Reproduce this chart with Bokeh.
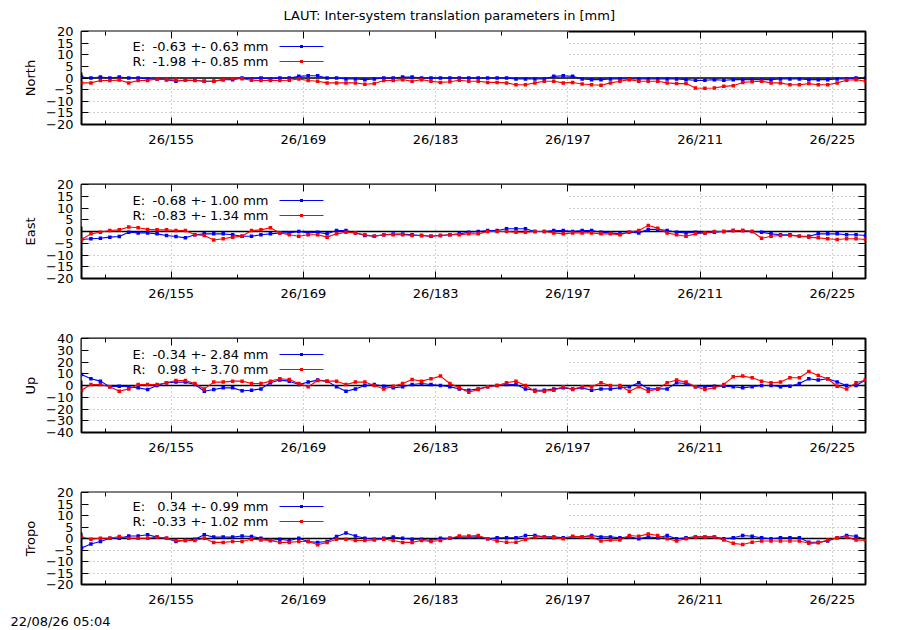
from bokeh.plotting import figure
from bokeh.layouts import column
from bokeh.models import Range1d, FixedTicker, LinearAxis, Span, Label, BoxAnnotation, Title
from bokeh.embed import file_html
from bokeh.resources import INLINE

title_text = "LAUT: Inter-system translation parameters in [mm]"
timestamp = "22/08/26 05:04"

# day of year 2026, one solution per day (plotted at noon)
doy = [145, 146, 147, 148, 149, 150, 151, 152, 153, 154, 155, 156, 157, 158,
       159, 160, 161, 162, 163, 164, 165, 166, 167, 168, 169, 170, 171, 172,
       173, 174, 175, 176, 177, 178, 179, 180, 181, 182, 183, 184, 185, 186,
       187, 188, 189, 190, 191, 192, 193, 194, 195, 196, 197, 198, 199, 200,
       201, 202, 203, 204, 205, 206, 207, 208, 209, 210, 211, 212, 213, 214,
       215, 216, 217, 218, 219, 220, 221, 222, 223, 224, 225, 226, 227, 228]

tick_days = [155, 169, 183, 197, 211, 225]
tick_labels = ["26/155", "26/169", "26/183", "26/197", "26/211", "26/225"]
minor_days = [148, 162, 176, 190, 204, 218]

north_e = [0.4, 0.0, 0.4, 0.0, 0.4, 0.0, 0.0, -0.4, -0.4, -0.7, -1.4, -1.0, -1.0, -1.4,
           -1.4, -0.7, -0.7, 0.0, -0.4, 0.0, -0.4, 0.0, 0.0, 0.7, 1.0, 1.0, 0.0, 0.0,
           -0.4, -0.4, -0.7, -0.4, 0.0, 0.0, 0.4, 0.4, 0.0, 0.0, 0.0, 0.0, 0.0, 0.0,
           0.0, 0.0, 0.0, 0.0, -0.4, -0.4, -0.4, -0.4, 0.7, 1.0, 0.7, -0.4, -0.7, -0.7,
           -0.4, -0.4, -0.4, -0.4, -0.4, -0.4, -0.4, -0.4, -0.7, -1.0, -1.0, -0.7, -1.0, -0.7,
           -0.7, -0.7, -0.7, -0.7, -0.4, -0.4, -0.4, -0.7, -0.7, -0.7, -0.4, -0.4, 0.0, 0.0]
north_r = [-2.1, -2.1, -1.1, -1.1, -0.9, -2.1, -1.1, -1.1, -0.4, -0.7, -0.9, -1.0, -1.1, -1.4,
           -1.4, -0.7, -0.3, -0.3, -1.0, -1.1, -1.1, -1.1, -1.0, -0.4, -1.1, -1.4, -2.1, -2.1,
           -2.1, -2.1, -2.7, -2.4, -1.1, -1.1, -0.7, -1.4, -0.7, -1.4, -1.9, -1.6, -1.0, -1.4,
           -1.4, -1.9, -1.9, -2.1, -2.9, -2.9, -2.1, -1.4, -1.4, -2.1, -1.9, -2.6, -2.9, -3.1,
           -2.1, -1.4, -0.7, -1.4, -1.4, -1.4, -2.1, -2.4, -2.4, -4.3, -4.4, -4.3, -3.6, -3.3,
           -1.9, -1.6, -1.4, -2.1, -2.1, -2.9, -2.9, -2.4, -2.9, -2.9, -2.1, -1.0, -0.7, -1.4]

east_e = [-3.4, -3.1, -2.9, -2.4, -2.1, -0.3, -0.6, -0.6, -1.0, -1.7, -2.1, -2.7, -1.4, -1.0,
          -1.0, -1.0, -1.4, -2.0, -2.0, -1.4, -1.0, -0.6, -0.6, 0.0, -0.6, -0.3, -1.0, 0.4,
          0.4, -0.6, -1.7, -2.0, -1.4, -1.1, -1.1, -1.4, -1.7, -2.0, -1.7, -1.4, -1.0, -0.3,
          0.0, 0.4, 0.4, 1.2, 1.2, 1.2, 0.0, 0.0, 0.4, 0.4, 0.0, 0.4, 0.4, -0.3,
          -0.6, -1.0, -0.3, -0.6, 0.9, 0.9, 0.4, -0.3, -0.6, -0.3, -0.6, -0.3, 0.0, 0.4,
          0.4, 0.0, -0.3, -1.0, -1.4, -1.4, -2.0, -2.0, -1.0, -1.0, -1.0, -1.4, -1.4, -1.7]
east_r = [-3.4, -1.0, -0.3, 0.4, 0.7, 1.9, 1.6, 0.9, 0.7, 0.7, 0.4, 0.4, -1.4, -1.7,
          -3.6, -3.1, -2.4, -2.0, 0.4, 0.7, 1.6, -0.6, -1.4, -2.0, -1.4, -1.4, -2.4, -1.0,
          -0.3, -0.6, -1.4, -2.0, -1.4, -1.4, -1.4, -1.7, -1.7, -2.0, -1.7, -1.4, -1.4, -1.0,
          -1.0, 0.0, 0.0, 0.0, -0.3, -0.3, 0.0, 0.0, -0.6, -1.0, -0.6, -0.6, -0.6, -1.0,
          -1.0, -1.4, -0.3, 0.4, 2.6, 1.4, -0.6, -1.4, -2.0, -1.0, -0.6, 0.0, 0.0, 0.4,
          0.4, 0.0, -2.9, -2.0, -1.7, -1.7, -2.0, -2.4, -2.7, -3.1, -3.4, -3.1, -3.1, -3.4]

up_e = [9.4, 5.7, 3.7, -1.1, -0.6, -1.1, -2.0, -3.4, 0.0, 2.3, 2.9, 2.9, 0.9, -4.9,
        -3.4, -2.0, -2.0, -4.5, -4.0, -2.9, 2.3, 4.6, 3.7, 0.9, 2.9, 4.6, 3.7, -1.1,
        -4.9, -2.9, 0.0, 0.9, -0.6, -2.0, -1.1, 0.9, 1.7, 0.9, 0.0, -1.1, -2.9, -4.0,
        -2.9, -1.1, 0.0, 0.9, 0.9, -2.9, -4.0, -4.0, -2.9, -2.0, -2.9, -2.0, -4.0, -2.9,
        -2.9, -2.0, -1.1, 2.3, -2.9, -2.9, -2.9, 2.3, 1.7, -1.1, -1.1, -0.6, -0.6, -1.1,
        -2.0, -1.1, 0.0, 0.0, -1.1, -0.6, 1.7, 5.7, 4.6, 5.7, 2.9, 0.0, 0.0, 4.6]
up_r = [-4.0, 0.9, 0.9, -1.1, -4.9, -2.9, 0.9, 0.9, 0.9, 2.3, 4.3, 4.3, 1.7, -2.9,
        2.9, 2.9, 3.7, 3.7, 1.7, 1.7, 3.7, 5.7, 5.1, 1.7, -1.1, 4.3, 3.7, 3.7,
        0.9, 2.9, 2.9, 0.0, -2.9, -0.6, 1.7, 5.1, 3.7, 5.7, 8.0, 1.7, -2.0, -5.7,
        -3.4, -1.1, 0.0, 2.3, 3.7, 0.0, -4.9, -4.9, -4.0, -1.1, -3.4, -1.1, -1.1, 2.3,
        0.0, 0.0, -4.9, -1.1, -4.9, -2.9, 2.3, 4.6, 2.9, -1.1, -3.4, -2.0, 0.9, 7.4,
        8.0, 6.6, 3.7, 2.3, 2.9, 6.6, 6.6, 11.9, 8.6, 5.7, -0.6, -2.9, 2.3, 4.6]

tropo_e = [-4.1, -2.4, -1.3, 0.1, 0.1, 1.1, 1.1, 1.6, 0.6, 0.1, -1.3, -0.9, -0.3, 1.6,
           0.6, 0.6, 0.6, 1.1, 0.9, 0.1, -0.9, -0.3, -0.9, 0.1, -1.3, -1.7, -1.3, 0.9,
           2.4, 1.1, 0.1, -0.3, 0.1, 0.6, 0.1, -0.3, -0.3, -0.9, 0.1, 0.1, 0.6, 0.6,
           0.7, -0.1, 0.3, 0.3, 0.3, 1.3, 1.3, 0.7, 0.7, 0.3, 0.7, 0.7, 1.3, 0.7,
           0.7, 0.3, 0.7, -0.1, 0.7, 0.3, 1.3, -0.1, 0.3, 0.7, 0.7, 0.7, -0.1, 0.3,
           1.3, 1.0, 0.3, -0.1, 0.3, 0.3, 0.3, -1.6, -1.6, -1.1, 0.3, 1.3, 1.0, -0.4]
tropo_r = [0.6, -0.3, 0.1, 0.1, 0.9, 0.1, 0.1, 0.1, 0.6, 0.1, -0.9, -0.9, -0.9, 0.1,
           -1.7, -1.7, -1.3, -1.3, -0.3, -0.6, -0.9, -1.7, -1.7, -1.3, -1.3, -2.7, -1.7, -0.3,
           -0.3, -0.9, -0.9, -0.6, -0.3, -0.9, -1.7, -1.7, -0.9, -1.3, -0.9, 0.1, 1.1, 1.1,
           1.3, -0.1, -1.1, -1.6, -1.6, -0.4, 0.7, 0.7, 0.3, -0.1, 1.0, 0.7, 0.7, -1.1,
           -0.7, -0.7, 1.3, 1.0, 2.0, 1.3, -0.1, -1.1, -0.1, 0.7, 0.7, 0.7, -0.7, -2.1,
           -2.6, -1.6, -1.1, -1.1, -1.1, -1.1, -1.1, -2.1, -1.9, -0.7, 0.3, 0.7, -0.7, -0.7]

components = ["North", "East", "Up", "Tropo"]
series_e = [north_e, east_e, up_e, tropo_e]
series_r = [north_r, east_r, up_r, tropo_r]
legend_e = ["-0.63 +- 0.63 mm", "-0.68 +- 1.00 mm", "-0.34 +- 2.84 mm", "0.34 +- 0.99 mm"]
legend_r = ["-1.98 +- 0.85 mm", "-0.83 +- 1.34 mm", "0.98 +- 3.70 mm", "-0.33 +- 1.02 mm"]
y_limits = [20, 20, 40, 20]
y_steps = [5, 5, 10, 5]

FONT = "DejaVu Sans"
FS = "13px"
BLUE = "#0000ff"
RED = "#ff0000"
FRAME_H = 94


def style_axis(ax, hide_labels=False):
    ax.axis_line_color = None
    ax.major_tick_in = 7
    ax.major_tick_out = 0
    ax.minor_tick_in = 4
    ax.minor_tick_out = 0
    ax.major_tick_line_color = "black"
    ax.minor_tick_line_color = "black"
    ax.major_label_text_font = FONT
    ax.major_label_text_font_size = FS
    ax.major_label_text_color = "black"
    ax.axis_label_text_font = FONT
    ax.axis_label_text_font_size = FS
    ax.axis_label_text_font_style = "normal"
    ax.axis_label_text_color = "black"
    if hide_labels:
        ax.major_label_text_color = None
        ax.major_label_standoff = 0


def make_panel(i, border_bottom):
    lim = y_limits[i]
    x = [d + 0.5 for d in doy]
    p = figure(width=900, height=30 + FRAME_H + border_bottom,
               x_range=Range1d(145.5, 228.5), y_range=Range1d(-lim, lim),
               output_backend="svg", toolbar_location=None, title=None,
               min_border_left=81, min_border_right=35,
               min_border_top=30, min_border_bottom=border_bottom,
               y_axis_label=components[i])
    p.background_fill_color = "white"
    p.border_fill_color = "white"
    p.outline_line_color = "black"
    p.outline_line_width = 2

    xt = FixedTicker(ticks=tick_days, minor_ticks=minor_days)
    yt = FixedTicker(ticks=list(range(-lim, lim + 1, y_steps[i])), minor_ticks=[])

    bottom_ax = p.xaxis[0]
    left_ax = p.yaxis[0]
    bottom_ax.ticker = xt
    bottom_ax.major_label_overrides = dict(zip(tick_days, tick_labels))
    bottom_ax.major_label_standoff = 7
    left_ax.ticker = yt
    left_ax.major_label_standoff = 8
    left_ax.axis_label_standoff = 5
    style_axis(bottom_ax)
    style_axis(left_ax)
    left_ax.minor_tick_line_color = None

    top_ax = LinearAxis(ticker=xt)
    right_ax = LinearAxis(ticker=yt)
    style_axis(top_ax, hide_labels=True)
    style_axis(right_ax, hide_labels=True)
    right_ax.minor_tick_line_color = None
    p.add_layout(top_ax, "above")
    p.add_layout(right_ax, "right")

    p.xgrid.ticker = FixedTicker(ticks=tick_days)
    p.ygrid.ticker = yt
    p.grid.grid_line_color = "#a0a0a0"
    p.grid.grid_line_dash = "1 3"
    p.grid.grid_line_width = 1

    # opaque key box, hides the grid in the upper left corner
    p.add_layout(BoxAnnotation(left=0, right=487, bottom=FRAME_H - 42, top=FRAME_H,
                               left_units="screen", right_units="screen",
                               bottom_units="screen", top_units="screen",
                               fill_color="white", fill_alpha=1.0, line_color=None,
                               level="underlay"))
    p.add_layout(Span(location=0, dimension="width", line_color="black",
                      line_width=1.5, level="underlay"))

    for vals, color in ((series_e[i], BLUE), (series_r[i], RED)):
        p.line(x, vals, line_color=color, line_width=1.1)
        p.scatter(x, vals, marker="square", size=3.5, fill_color=color, line_color=None)

    # key: text right aligned, then a line sample with a point
    for row, (tag, txt, color) in enumerate((("E:", legend_e[i], BLUE), ("R:", legend_r[i], RED))):
        yy = FRAME_H - 16 - 15 * row
        p.add_layout(Label(x=51, y=yy, x_units="screen", y_units="screen", text=tag,
                           text_align="left", text_baseline="middle",
                           text_font=FONT, text_font_size=FS, text_color="black"))
        p.add_layout(Label(x=187, y=yy, x_units="screen", y_units="screen", text=txt,
                           text_align="right", text_baseline="middle",
                           text_font=FONT, text_font_size=FS, text_color="black"))
        p.add_layout(BoxAnnotation(left=198, right=242, bottom=yy - 0.5, top=yy + 0.5,
                                   left_units="screen", right_units="screen",
                                   bottom_units="screen", top_units="screen",
                                   fill_color=color, fill_alpha=1.0, line_color=None))
        p.add_layout(BoxAnnotation(left=218.5, right=221.5, bottom=yy - 1.5, top=yy + 1.5,
                                   left_units="screen", right_units="screen",
                                   bottom_units="screen", top_units="screen",
                                   fill_color=color, fill_alpha=1.0, line_color=None))
    return p


panels = [make_panel(0, 30), make_panel(1, 30), make_panel(2, 30), make_panel(3, 44)]

panels[0].add_layout(Title(text=title_text, align="left", offset=202, standoff=14,
                           vertical_align="top",
                           text_font=FONT, text_font_size=FS, text_font_style="normal",
                           text_color="black"), "above")
panels[3].add_layout(Title(text=timestamp, align="left", offset=-71, standoff=4,
                           text_font=FONT, text_font_size=FS, text_font_style="normal",
                           text_color="black"), "below")

layout = column(*panels)
open("out.html", "w").write(file_html(layout, INLINE, title="LAUT"))
